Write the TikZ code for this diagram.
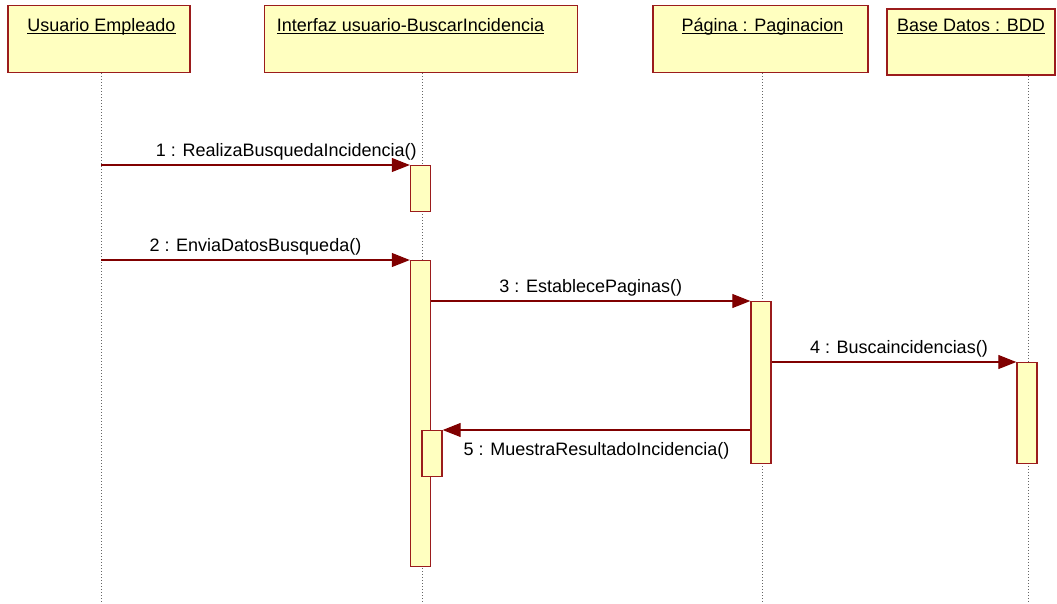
\documentclass[tikz,border=0pt]{standalone}
\usepackage{fontspec}
\setmainfont{Liberation Sans}
\usetikzlibrary{arrows.meta,positioning}
\definecolor{objfill}{HTML}{FFFFC0}
\definecolor{objline}{HTML}{9B1C1C}
\definecolor{msgline}{HTML}{800000}
\newcommand{\objname}[1]{\setbox0\hbox{#1}\rlap{\rule[-2.4pt]{\wd0}{1.2pt}}\box0}

\begin{document}
\begin{tikzpicture}[x=1pt,y=-1pt,
  every node/.style={font=\fontsize{18}{21}\selectfont},
  obj/.style={draw=objline, fill=objfill, line width=1.6pt, inner sep=0pt},
  act/.style={draw=objline, fill=objfill, line width=1.4pt,
              minimum width=20pt, inner sep=0pt, anchor=north},
  lifeline/.style={draw=black!60, line width=0.8pt, dash pattern=on 1pt off 2pt},
  msg/.style={draw=msgline, line width=1.2pt, -{Triangle[length=18pt,width=14pt]}},
  msglabel/.style={inner sep=0pt}]
  \useasboundingbox (0,0) rectangle (1057,603);

  % Objects
  \node[obj, minimum width=182pt, minimum height=67pt] (usr) at (99,39) {};
  \node[obj, minimum width=313pt, minimum height=67pt] (gui) at (421,39) {};
  \node[obj, minimum width=215pt, minimum height=67pt] (pag) at (760.5,39) {};
  \node[obj, minimum width=168pt, minimum height=66pt] (bdd) at (971,42) {};

  \node[anchor=base] (usrtxt) at (101.5,31.6) {\objname{Usuario Empleado}};
  \node[anchor=base] (guitxt) at (410.5,31.6) {\objname{Interfaz usuario-BuscarIncidencia}};
  \node[anchor=base] (pagtxt) at (762.5,31.6) {\objname{Página : Paginacion}};
  \node[anchor=base] (bddtxt) at (971,31.6) {\objname{Base Datos : BDD}};

  % Lifelines
  \coordinate (usrL) at (101,603);
  \coordinate (guiL) at (422,603);
  \coordinate (pagL) at (762,603);
  \coordinate (bddL) at (1028,603);
  \draw[lifeline] (usrL |- usr.south) -- (usrL);
  \draw[lifeline] (guiL |- gui.south) -- (guiL);
  \draw[lifeline] (pagL |- pag.south) -- (pagL);
  \draw[lifeline] (bddL |- bdd.south) -- (bddL);

  % Activations
  \node[act, minimum height=46pt] (a1) at (420.5,165) {};
  \node[act, minimum height=306pt] (a2) at (420.5,260) {};
  \node[act, minimum height=162pt] (a3) at (761,301) {};
  \node[act, minimum height=101pt] (a4) at (1027,362) {};
  \node[act, minimum height=46pt] (a5) at (432,430) {};

  % Messages
  \draw[msg] (usrL |- a1.north) -- node[msglabel, above=4pt, pos=0.6] {1 : RealizaBusquedaIncidencia()} (a1.north west);
  \draw[msg] (usrL |- a2.north) -- node[msglabel, above=4pt] {2 : EnviaDatosBusqueda()} (a2.north west);
  \draw[msg] (a2.north east |- a3.north) -- node[msglabel, above=4pt] {3 : EstablecePaginas()} (a3.north west);
  \draw[msg] (a3.north east |- a4.north) -- node[msglabel, above=4pt, pos=0.52] {4 : Buscaincidencias()} (a4.north west);
  \draw[msg] (a3.north west |- a5.north) -- node[msglabel, below=12pt] {5 : MuestraResultadoIncidencia()} (a5.north east);
\end{tikzpicture}
\end{document}
